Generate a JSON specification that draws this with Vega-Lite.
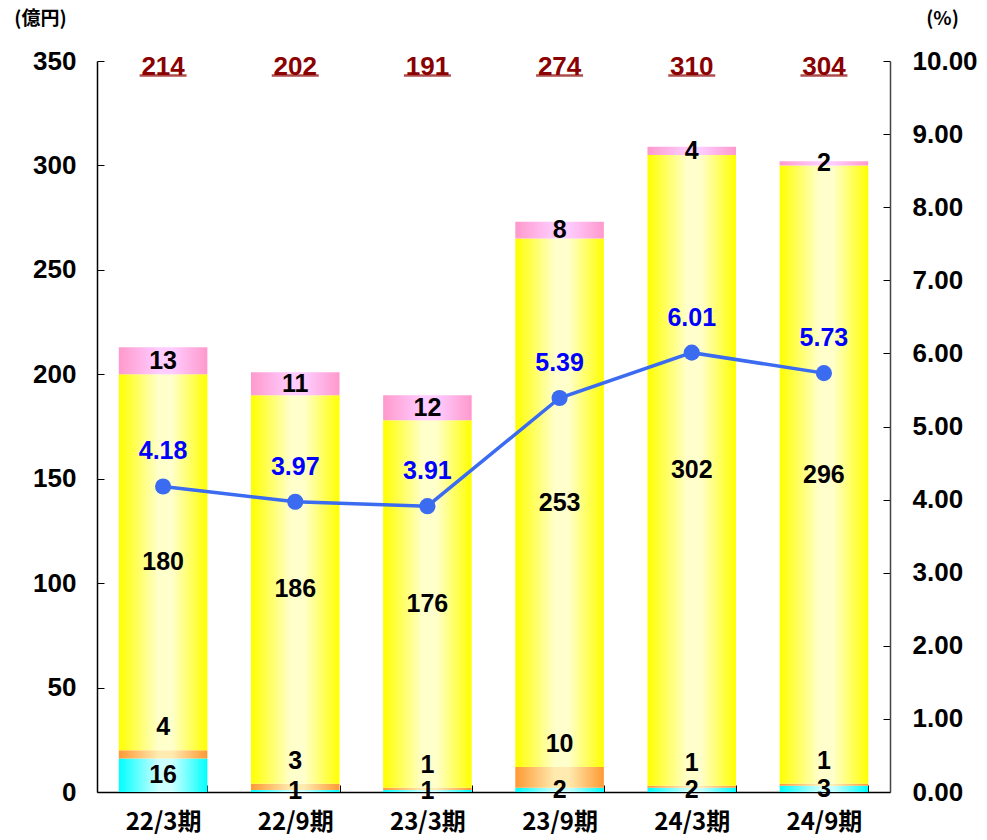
{
  "$schema": "https://vega.github.io/schema/vega-lite/v6.json",
  "width": 793,
  "height": 731,
  "autosize": {"type": "none"},
  "padding": {"left": 97, "top": 61, "right": 97, "bottom": 48},
  "background": "white",
  "config": {
    "view": {"stroke": null},
    "axis": {"grid": false, "domainColor": "#000000", "tickColor": "#000000", "labelColor": "#000000", "titleColor": "#000000", "labelFont": "Liberation Sans", "labelFontSize": 26, "labelFontWeight": "bold"},
    "text": {"font": "Liberation Sans", "fontSize": 25, "fontWeight": "bold"}
  },
  "datasets": {
    "bars": [
      {"period": "22/3期", "seg": "cyan", "order": 1, "value": 16},
      {"period": "22/3期", "seg": "orange", "order": 2, "value": 4},
      {"period": "22/3期", "seg": "yellow", "order": 3, "value": 180},
      {"period": "22/3期", "seg": "pink", "order": 4, "value": 13},
      {"period": "22/9期", "seg": "cyan", "order": 1, "value": 1},
      {"period": "22/9期", "seg": "orange", "order": 2, "value": 3},
      {"period": "22/9期", "seg": "yellow", "order": 3, "value": 186},
      {"period": "22/9期", "seg": "pink", "order": 4, "value": 11},
      {"period": "23/3期", "seg": "cyan", "order": 1, "value": 1},
      {"period": "23/3期", "seg": "orange", "order": 2, "value": 1},
      {"period": "23/3期", "seg": "yellow", "order": 3, "value": 176},
      {"period": "23/3期", "seg": "pink", "order": 4, "value": 12},
      {"period": "23/9期", "seg": "cyan", "order": 1, "value": 2},
      {"period": "23/9期", "seg": "orange", "order": 2, "value": 10},
      {"period": "23/9期", "seg": "yellow", "order": 3, "value": 253},
      {"period": "23/9期", "seg": "pink", "order": 4, "value": 8},
      {"period": "24/3期", "seg": "cyan", "order": 1, "value": 2},
      {"period": "24/3期", "seg": "orange", "order": 2, "value": 1},
      {"period": "24/3期", "seg": "yellow", "order": 3, "value": 302},
      {"period": "24/3期", "seg": "pink", "order": 4, "value": 4},
      {"period": "24/9期", "seg": "cyan", "order": 1, "value": 3},
      {"period": "24/9期", "seg": "orange", "order": 2, "value": 1},
      {"period": "24/9期", "seg": "yellow", "order": 3, "value": 296},
      {"period": "24/9期", "seg": "pink", "order": 4, "value": 2}
    ],
    "totals": [
      {"period": "22/3期", "total": 214},
      {"period": "22/9期", "total": 202},
      {"period": "23/3期", "total": 191},
      {"period": "23/9期", "total": 274},
      {"period": "24/3期", "total": 310},
      {"period": "24/9期", "total": 304}
    ],
    "ratio": [
      {"period": "22/3期", "pct": 4.18},
      {"period": "22/9期", "pct": 3.97},
      {"period": "23/3期", "pct": 3.91},
      {"period": "23/9期", "pct": 5.39},
      {"period": "24/3期", "pct": 6.01},
      {"period": "24/9期", "pct": 5.73}
    ]
  },
  "encoding": {
    "x": {"field": "period", "type": "nominal", "sort": null,
      "scale": {"domain": ["22/3期", "22/9期", "23/3期", "23/9期", "24/3期", "24/9期"], "paddingInner": 0.33, "paddingOuter": 0.165},
      "axis": {"title": null, "labelAngle": 0, "labelFont": "Noto Sans CJK JP", "labelFontWeight": "bold", "labelFontSize": 24, "labelPadding": 25, "tickBand": "extent", "tickSize": -7, "domainWidth": 1.5}}
  },
  "resolve": {"scale": {"y": "independent"}},
  "layer": [
    {
      "layer": [
        {
          "data": {"name": "bars"},
          "transform": [
            {"stack": "value", "groupby": ["period"], "sort": [{"field": "order", "order": "ascending"}], "as": ["y0", "y1"]},
            {"calculate": "(datum.y0 + datum.y1) / 2", "as": "ymid"}
          ],
          "layer": [
            {
              "transform": [{"filter": "datum.seg === 'cyan'"}],
              "mark": {"type": "bar", "fill": {"gradient": "linear", "x1": 0, "y1": 0, "x2": 1, "y2": 0, "stops": [{"offset": 0, "color": "#00FFFF"}, {"offset": 0.45, "color": "#CCFFFF"}, {"offset": 0.6, "color": "#CCFFFF"}, {"offset": 1, "color": "#00FFFF"}]}},
              "encoding": {
                "y": {"field": "y0", "type": "quantitative", "scale": {"domain": [0, 350]},
                  "axis": {"title": "(億円)", "titleAngle": 0, "titleFont": "Noto Sans CJK JP", "titleFontSize": 19, "titleFontWeight": "bold", "titleX": -57, "titleY": -43, "titleAlign": "center", "titleBaseline": "middle", "values": [0, 50, 100, 150, 200, 250, 300, 350], "tickSize": -7, "labelPadding": 28, "domainWidth": 1.5}},
                "y2": {"field": "y1"}
              }
            },
            {
              "transform": [{"filter": "datum.seg === 'orange'"}],
              "mark": {"type": "bar", "fill": {"gradient": "linear", "x1": 0, "y1": 0, "x2": 1, "y2": 0, "stops": [{"offset": 0, "color": "#FF9933"}, {"offset": 0.45, "color": "#FFEBB0"}, {"offset": 0.6, "color": "#FFEBB0"}, {"offset": 1, "color": "#FF9933"}]}},
              "encoding": {"y": {"field": "y0", "type": "quantitative"}, "y2": {"field": "y1"}}
            },
            {
              "transform": [{"filter": "datum.seg === 'yellow'"}],
              "mark": {"type": "bar", "fill": {"gradient": "linear", "x1": 0, "y1": 0, "x2": 1, "y2": 0, "stops": [{"offset": 0, "color": "#FFFF00"}, {"offset": 0.45, "color": "#FFFFCC"}, {"offset": 0.6, "color": "#FFFFCC"}, {"offset": 1, "color": "#FFFF00"}]}},
              "encoding": {"y": {"field": "y0", "type": "quantitative"}, "y2": {"field": "y1"}}
            },
            {
              "transform": [{"filter": "datum.seg === 'pink'"}],
              "mark": {"type": "bar", "fill": {"gradient": "linear", "x1": 0, "y1": 0, "x2": 1, "y2": 0, "stops": [{"offset": 0, "color": "#FF99CC"}, {"offset": 0.45, "color": "#FFCCFF"}, {"offset": 0.6, "color": "#FFCCFF"}, {"offset": 1, "color": "#FF99CC"}]}},
              "encoding": {"y": {"field": "y0", "type": "quantitative"}, "y2": {"field": "y1"}}
            },
            {
              "transform": [{"filter": "datum.seg !== 'orange'"}],
              "mark": {"type": "text", "color": "#000000", "baseline": "middle", "align": "center"},
              "encoding": {"y": {"field": "ymid", "type": "quantitative"}, "text": {"field": "value", "type": "quantitative"}}
            },
            {
              "transform": [{"filter": "datum.seg === 'orange'"}],
              "mark": {"type": "text", "color": "#000000", "baseline": "bottom", "align": "center", "dy": -10},
              "encoding": {"y": {"field": "y1", "type": "quantitative"}, "text": {"field": "value", "type": "quantitative"}}
            }
          ]
        },
        {
          "data": {"name": "totals"},
          "layer": [
            {
              "mark": {"type": "text", "color": "#8B0000", "baseline": "middle", "align": "center", "dy": 6, "fontSize": 26},
              "encoding": {"y": {"datum": 350, "type": "quantitative"}, "text": {"field": "total", "type": "quantitative"}}
            },
            {
              "mark": {"type": "tick", "color": "#8B0000", "size": 47, "thickness": 2.5, "orient": "horizontal"},
              "encoding": {"y": {"datum": 343, "type": "quantitative"}}
            }
          ]
        }
      ]
    },
    {
      "data": {"name": "ratio"},
      "encoding": {
        "y": {"field": "pct", "type": "quantitative", "scale": {"domain": [0, 10]},
          "axis": {"orient": "right", "format": ".2f", "values": [0, 1, 2, 3, 4, 5, 6, 7, 8, 9, 10], "title": "(%)", "titleAngle": 0, "titleFont": "Noto Sans CJK JP", "titleFontSize": 19, "titleFontWeight": "bold", "titleX": 52, "titleY": -43, "titleAlign": "center", "titleBaseline": "middle", "tickSize": -7, "labelPadding": 29, "domainWidth": 1.5, "domainColor": "#444444"}}
      },
      "layer": [
        {"mark": {"type": "line", "color": "#3A6BF0", "strokeWidth": 3.5}},
        {"mark": {"type": "point", "filled": true, "color": "#3A6BF0", "size": 260, "opacity": 1}},
        {"mark": {"type": "text", "color": "#0000FF", "baseline": "middle", "align": "center", "dy": -35}, "encoding": {"text": {"field": "pct", "type": "quantitative", "format": ".2f"}}}
      ]
    }
  ]
}
